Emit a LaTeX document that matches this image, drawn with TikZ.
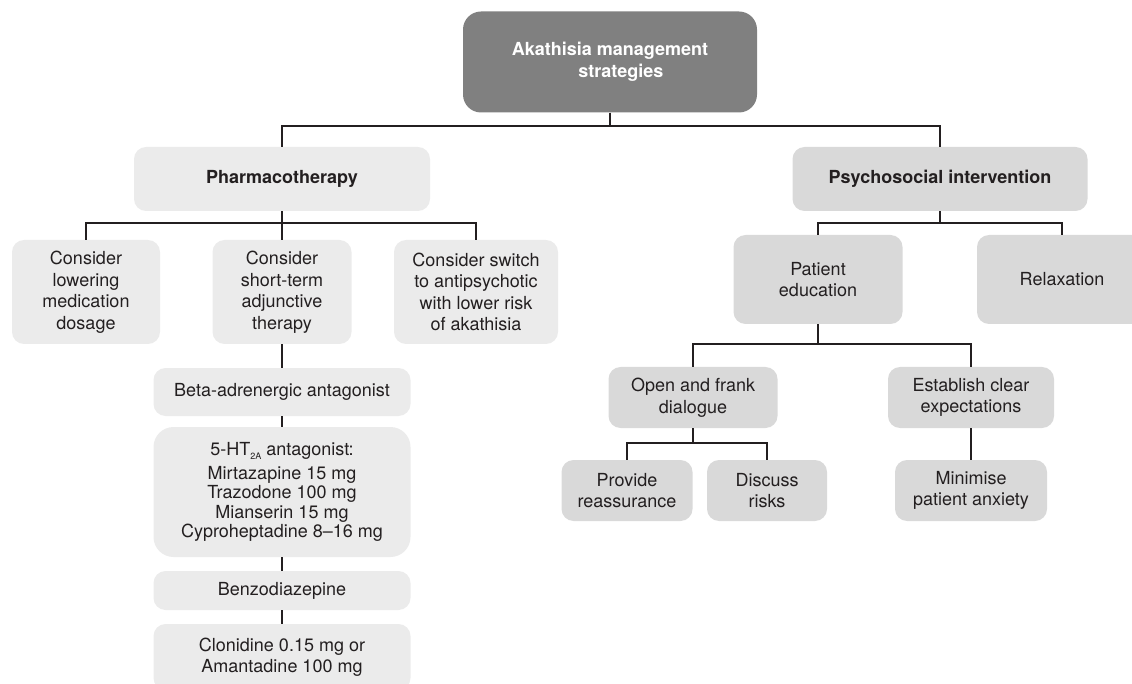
\documentclass[tikz,border=0pt]{standalone}
\usepackage{fontspec}
\setmainfont{TeX Gyre Heros}

\definecolor{rootgray}{HTML}{808080}
\definecolor{palegray}{HTML}{EBEBEB}
\definecolor{midgray}{HTML}{D9D9D9}
\definecolor{inkgray}{HTML}{231F20}

\begin{document}
\begin{tikzpicture}[x=1pt,y=-1pt,
	every node/.style={text=inkgray,align=center,inner sep=0pt,font=\fontsize{18}{21.5}\selectfont},
	box/.style 2 args={rounded corners=12pt,minimum width=#1,minimum height=#2},
	pharmbox/.style 2 args={box={#1}{#2},fill=palegray},
	psybox/.style 2 args={box={#1}{#2},fill=midgray},
	link/.style={draw=inkgray,line width=2pt}]

	\useasboundingbox (0,0) rectangle (1132,684);
	\clip (0,0) rectangle (1132,684);

	% top of the tree
	\node[box={294}{101},fill=rootgray,rounded corners=18pt,text=white,
		font=\fontsize{18}{21.5}\selectfont\bfseries] (root) at (610,62) {Akathisia management\\\hspace{1.2em}strategies};

	\node[pharmbox={296}{64},font=\fontsize{18}{21.5}\selectfont\bfseries] (pharma) at (282,179) {Pharmacotherapy};
	\node[psybox={295}{64},font=\fontsize{18}{21.5}\selectfont\bfseries] (psych) at (940,179) {Psychosocial intervention};

	% pharmacotherapy branch
	\node[pharmbox={148}{104}] (lower) at (86,292) {Consider\\lowering\\medication\\dosage};
	\node[pharmbox={139}{104}] (short) at (282,292) {Consider\\short-term\\adjunctive\\therapy};
	\node[pharmbox={164}{104}] (switch) at (476,292) {Consider switch\\to antipsychotic\\with lower risk\\of akathisia};

	\node[pharmbox={257}{48}] (beta) at (282,392) {Beta-adrenergic antagonist};
	\node[pharmbox={257}{130},rounded corners=20pt,font=\fontsize{18}{19.5}\selectfont] (ht) at (282,492)
		{5-HT\raisebox{-0.45ex}{\fontsize{9}{9}\selectfont 2A} antagonist:\\[4pt]Mirtazapine 15 mg\\Trazodone 100 mg\\Mianserin 15 mg\\Cyproheptadine 8--16 mg};
	\node[pharmbox={257}{39}] (benzo) at (282,590.5) {Benzodiazepine};
	\node[pharmbox={257}{66}] (clon) at (282,657) {Clonidine 0.15 mg or\\Amantadine 100 mg};

	% psychosocial branch
	\node[psybox={169}{89}] (educ) at (818,279.5) {Patient\\education};
	\node[psybox={170}{89}] (relax) at (1062,279.5) {Relaxation};

	\node[psybox={169}{61}] (open) at (693,397.5) {Open and frank\\dialogue};
	\node[psybox={166}{61}] (estab) at (971,397.5) {Establish clear\\expectations};

	\node[psybox={131}{61}] (reass) at (627,490.5) {Provide\\reassurance};
	\node[psybox={120}{61}] (risks) at (767,490.5) {Discuss\\risks};
	\node[psybox={152}{61}] (minim) at (971,490.5) {Minimise\\patient anxiety};

	% connectors
	\draw[link] (root.south) -- ++(0,13) -| (pharma.north);
	\draw[link] (root.south) -- ++(0,13) -| (psych.north);

	\foreach \kid in {lower,short,switch}
		\draw[link] (pharma.south) -- ++(0,12) -| (\kid.north);
	\draw[link] (short.south) -- (beta.north);
	\draw[link] (beta.south) -- (ht.north);
	\draw[link] (ht.south) -- (benzo.north);
	\draw[link] (benzo.south) -- (clon.north);

	\foreach \kid in {educ,relax}
		\draw[link] (psych.south) -- ++(0,12) -| (\kid.north);
	\foreach \kid in {open,estab}
		\draw[link] (educ.south) -- ++(0,20) -| (\kid.north);
	\foreach \kid in {reass,risks}
		\draw[link] (open.south) -- ++(0,15) -| (\kid.north);
	\draw[link] (estab.south) -- (minim.north);
\end{tikzpicture}
\end{document}
